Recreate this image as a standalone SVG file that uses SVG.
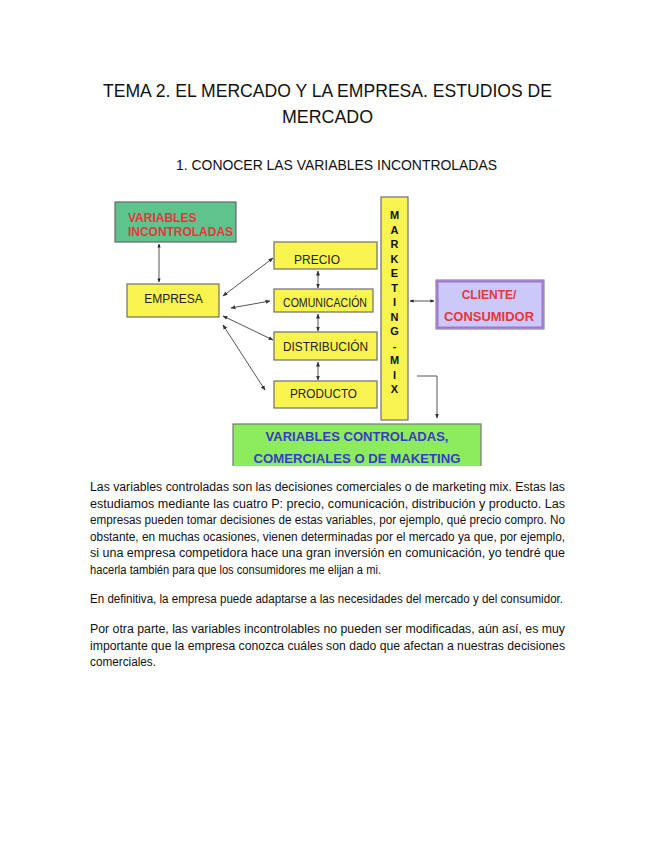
<svg xmlns="http://www.w3.org/2000/svg" width="655" height="848" viewBox="0 0 655 848">
<style>
.ttl{font-family:"Liberation Sans",Arial,sans-serif;font-size:19px;fill:#111}
.sub{font-family:"Liberation Sans",Arial,sans-serif;font-size:14.5px;fill:#111}
.body{font-family:"Liberation Sans",Arial,sans-serif;font-size:12px;fill:#111}
.yb{fill:#FAF450;stroke:#6E6E6E;stroke-width:1.2}
.lbl{font-family:"Liberation Sans",Arial,sans-serif;font-size:12px;fill:#222}
.bold{font-weight:bold}
.red{fill:#E8353C}
.blue{fill:#3A3AC8}
.con{stroke:#555;stroke-width:1;fill:none}
.mm{font-family:"Liberation Sans",Arial,sans-serif;font-size:11px;font-weight:bold;fill:#111;text-anchor:middle}
</style>
<defs>
<marker id="ah" viewBox="0 0 10 10" refX="9" refY="5" markerWidth="5" markerHeight="5" orient="auto-start-reverse">
<path d="M0,1 L10,5 L0,9 z" fill="#333"/>
</marker>
<marker id="ahb" viewBox="0 0 10 10" refX="9" refY="5" markerWidth="4" markerHeight="4" orient="auto-start-reverse">
<path d="M0,1 L10,5 L0,9 z" fill="#222"/>
</marker>
<clipPath id="clipDiag"><rect x="0" y="0" width="655" height="466"/></clipPath>
</defs>

<g id="title">
<text class="ttl" x="327.5" y="97" text-anchor="middle" textLength="449" lengthAdjust="spacingAndGlyphs">TEMA 2. EL MERCADO Y LA EMPRESA. ESTUDIOS DE</text>
<text class="ttl" x="327.5" y="123" text-anchor="middle" textLength="91" lengthAdjust="spacingAndGlyphs">MERCADO</text>
<text class="sub" x="176" y="170" textLength="321" lengthAdjust="spacingAndGlyphs">1.  CONOCER LAS VARIABLES INCONTROLADAS</text>
</g>

<g id="connectors">
<line class="con" x1="159" y1="244" x2="159" y2="282" stroke-width="1.6" marker-start="url(#ahb)" marker-end="url(#ahb)"/>
<line class="con" x1="223" y1="296" x2="273" y2="258" marker-start="url(#ah)" marker-end="url(#ah)"/>
<line class="con" x1="231" y1="308" x2="270" y2="301" marker-start="url(#ah)" marker-end="url(#ah)"/>
<line class="con" x1="223" y1="316" x2="273" y2="340" marker-start="url(#ah)" marker-end="url(#ah)"/>
<line class="con" x1="223" y1="325" x2="265" y2="390" marker-start="url(#ah)" marker-end="url(#ah)"/>
<line class="con" x1="318" y1="271" x2="318" y2="288" marker-start="url(#ah)" marker-end="url(#ah)"/>
<line class="con" x1="318" y1="314" x2="318" y2="331" marker-start="url(#ah)" marker-end="url(#ah)"/>
<line class="con" x1="318" y1="362" x2="318" y2="380" marker-start="url(#ah)" marker-end="url(#ah)"/>
<line class="con" x1="410" y1="301" x2="434" y2="301" stroke-width="1.4" marker-start="url(#ahb)" marker-end="url(#ahb)"/>
<polyline class="con" points="417,376 437,376 437,418" marker-end="url(#ah)"/>
</g>

<g id="variables-incontroladas">
<rect x="115" y="202" width="121" height="40" fill="#5FC38E" stroke="#666" stroke-width="1.2"/>
<text class="lbl bold red" x="128" y="222" font-size="11">VARIABLES</text>
<text class="lbl bold red" x="128" y="236" font-size="11" textLength="105" lengthAdjust="spacingAndGlyphs">INCONTROLADAS</text>
</g>

<g id="empresa">
<rect class="yb" x="127" y="284" width="92" height="33"/>
<text class="lbl" x="173.5" y="303" text-anchor="middle">EMPRESA</text>
</g>

<g id="precio">
<rect class="yb" x="274" y="242" width="103" height="27"/>
<text class="lbl" x="294" y="264">PRECIO</text>
</g>

<g id="comunicacion">
<rect class="yb" x="274" y="289" width="99" height="23"/>
<text class="lbl" x="283" y="307" font-size="10" textLength="84" lengthAdjust="spacingAndGlyphs">COMUNICACIÓN</text>
</g>

<g id="distribucion">
<rect class="yb" x="274" y="332" width="103" height="28"/>
<text class="lbl" x="283" y="351" textLength="85" lengthAdjust="spacingAndGlyphs">DISTRIBUCIÓN</text>
</g>

<g id="producto">
<rect class="yb" x="274" y="381" width="103" height="27"/>
<text class="lbl" x="290" y="398" textLength="67" lengthAdjust="spacingAndGlyphs">PRODUCTO</text>
</g>

<g id="marketing-mix">
<rect class="yb" x="381" y="197" width="27" height="223"/>
<text class="mm" x="394.5" y="219">M</text>
<text class="mm" x="394.5" y="233.5">A</text>
<text class="mm" x="394.5" y="248">R</text>
<text class="mm" x="394.5" y="262.5">K</text>
<text class="mm" x="394.5" y="277">E</text>
<text class="mm" x="394.5" y="291.5">T</text>
<text class="mm" x="394.5" y="306">I</text>
<text class="mm" x="394.5" y="320.5">N</text>
<text class="mm" x="394.5" y="335">G</text>
<text class="mm" x="394.5" y="349.5">-</text>
<text class="mm" x="394.5" y="364">M</text>
<text class="mm" x="394.5" y="378.5">I</text>
<text class="mm" x="394.5" y="393">X</text>
</g>

<g id="cliente-consumidor">
<rect x="436" y="280" width="108" height="49" fill="#CCC8FA" stroke="#777" stroke-width="1"/>
<rect x="437.5" y="281.5" width="105" height="46" fill="none" stroke="#A672D8" stroke-width="2"/>
<text class="lbl bold red" x="489" y="299" text-anchor="middle" font-size="12">CLIENTE/</text>
<text class="lbl bold red" x="489" y="321" text-anchor="middle" font-size="12" textLength="90" lengthAdjust="spacingAndGlyphs">CONSUMIDOR</text>
</g>

<g id="variables-controladas" clip-path="url(#clipDiag)">
<rect x="233" y="424" width="248" height="50" fill="#8CEC5E" stroke="#777" stroke-width="1.2"/>
<text class="lbl bold blue" x="357" y="441" text-anchor="middle" font-size="12.5" textLength="183" lengthAdjust="spacingAndGlyphs">VARIABLES CONTROLADAS,</text>
<text class="lbl bold blue" x="357" y="463" text-anchor="middle" font-size="12.5" textLength="207" lengthAdjust="spacingAndGlyphs">COMERCIALES O DE MAKETING</text>
</g>

<g id="texto">
<text class="body" x="90" y="491" textLength="475" lengthAdjust="spacingAndGlyphs">Las variables controladas son las decisiones comerciales o de marketing mix. Estas las</text>
<text class="body" x="90" y="507.5" textLength="475" lengthAdjust="spacingAndGlyphs">estudiamos mediante las cuatro P: precio, comunicación, distribución y producto. Las</text>
<text class="body" x="90" y="524" textLength="475" lengthAdjust="spacingAndGlyphs">empresas pueden tomar decisiones de estas variables, por ejemplo, qué precio compro. No</text>
<text class="body" x="90" y="540.5" textLength="475" lengthAdjust="spacingAndGlyphs">obstante, en muchas ocasiones, vienen determinadas por el mercado ya que, por ejemplo,</text>
<text class="body" x="90" y="557" textLength="475" lengthAdjust="spacingAndGlyphs">si una empresa competidora hace una gran inversión en comunicación, yo tendré que</text>
<text class="body" x="90" y="573.5" textLength="291" lengthAdjust="spacingAndGlyphs">hacerla también para que los consumidores me elijan a mi.</text>
<text class="body" x="90" y="603" textLength="473" lengthAdjust="spacingAndGlyphs">En definitiva, la empresa puede adaptarse a las necesidades del mercado y del consumidor.</text>
<text class="body" x="90" y="633" textLength="475" lengthAdjust="spacingAndGlyphs">Por otra parte, las variables incontrolables no pueden ser modificadas, aún así, es muy</text>
<text class="body" x="90" y="649.5" textLength="475" lengthAdjust="spacingAndGlyphs">importante que la empresa conozca cuáles son dado que afectan a nuestras decisiones</text>
<text class="body" x="90" y="666" textLength="66" lengthAdjust="spacingAndGlyphs">comerciales.</text>
</g>
</svg>
